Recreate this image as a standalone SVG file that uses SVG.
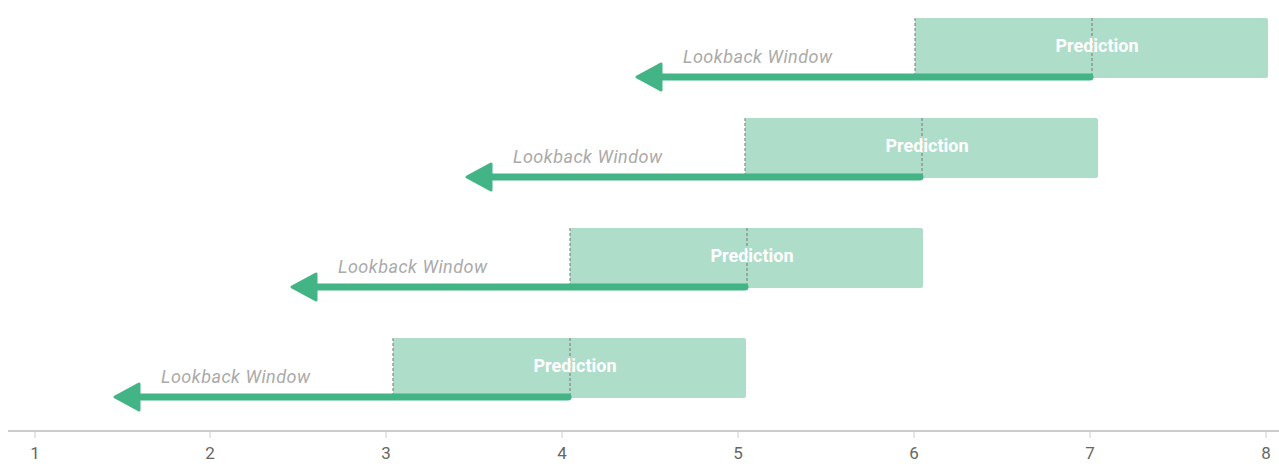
<svg xmlns="http://www.w3.org/2000/svg" width="1279" height="470" viewBox="0 0 1279 470">
<style>
.pred{fill:#aeddca}
.dash{stroke:#777;stroke-width:1;stroke-dasharray:3,2}
.pt{font-family:Roboto,"Liberation Sans",sans-serif;font-weight:bold;font-size:18px;fill:#fff;text-anchor:middle}
.lt{font-family:Roboto,"Liberation Sans",sans-serif;font-style:italic;font-size:18px;fill:#aaa;letter-spacing:0.5px}
.arr{stroke:#43b485;stroke-width:7;stroke-linecap:round;fill:none}
.head{fill:#43b485;stroke:#43b485;stroke-width:3;stroke-linejoin:round}
.ax{stroke:#ccc;stroke-width:2}
.tk{stroke:#ccc;stroke-width:1}
.tl{font-family:Roboto,"Liberation Sans",sans-serif;font-size:17px;fill:#666;text-anchor:middle}
</style>
<g id="axis">
<line class="ax" x1="8" y1="431" x2="1279" y2="431"/>
<g class="tk">
<line x1="35" y1="431" x2="35" y2="438"/><line x1="210" y1="431" x2="210" y2="438"/><line x1="386" y1="431" x2="386" y2="438"/><line x1="562" y1="431" x2="562" y2="438"/><line x1="738" y1="431" x2="738" y2="438"/><line x1="914" y1="431" x2="914" y2="438"/><line x1="1090" y1="431" x2="1090" y2="438"/><line x1="1266" y1="431" x2="1266" y2="438"/>
</g>
<text class="tl" x="35" y="459">1</text><text class="tl" x="210" y="459">2</text><text class="tl" x="386" y="459">3</text><text class="tl" x="562" y="459">4</text><text class="tl" x="738" y="459">5</text><text class="tl" x="914" y="459">6</text><text class="tl" x="1090" y="459">7</text><text class="tl" x="1266" y="459">8</text>
</g>
<g id="pred1"><rect class="pred" x="915" y="18" width="353" height="60" rx="2"/><line class="dash" x1="915" y1="18" x2="915" y2="78"/><line class="dash" x1="1092" y1="18" x2="1092" y2="78"/><text class="pt" x="1097" y="52">Prediction</text></g>
<g id="pred2"><rect class="pred" x="745" y="118" width="353" height="60" rx="2"/><line class="dash" x1="745" y1="118" x2="745" y2="178"/><line class="dash" x1="922" y1="118" x2="922" y2="178"/><text class="pt" x="927" y="152">Prediction</text></g>
<g id="pred3"><rect class="pred" x="570" y="228" width="353" height="60" rx="2"/><line class="dash" x1="570" y1="228" x2="570" y2="288"/><line class="dash" x1="747" y1="228" x2="747" y2="288"/><text class="pt" x="752" y="262">Prediction</text></g>
<g id="pred4"><rect class="pred" x="393" y="338" width="353" height="60" rx="2"/><line class="dash" x1="393" y1="338" x2="393" y2="398"/><line class="dash" x1="570" y1="338" x2="570" y2="398"/><text class="pt" x="575" y="372">Prediction</text></g>
<g id="connectors">
<line class="arr" x1="1090" y1="77" x2="655" y2="77"/><polygon class="head" points="637,77 661,64 661,90"/>
<line class="arr" x1="920" y1="177" x2="485" y2="177"/><polygon class="head" points="467,177 491,164 491,190"/>
<line class="arr" x1="745" y1="287" x2="310" y2="287"/><polygon class="head" points="292,287 316,274 316,300"/>
<line class="arr" x1="568" y1="397" x2="133" y2="397"/><polygon class="head" points="115,397 139,384 139,410"/>
</g>
<g id="labels">
<text class="lt" x="683" y="63">Lookback Window</text>
<text class="lt" x="513" y="163">Lookback Window</text>
<text class="lt" x="338" y="273">Lookback Window</text>
<text class="lt" x="161" y="383">Lookback Window</text>
</g>
</svg>
